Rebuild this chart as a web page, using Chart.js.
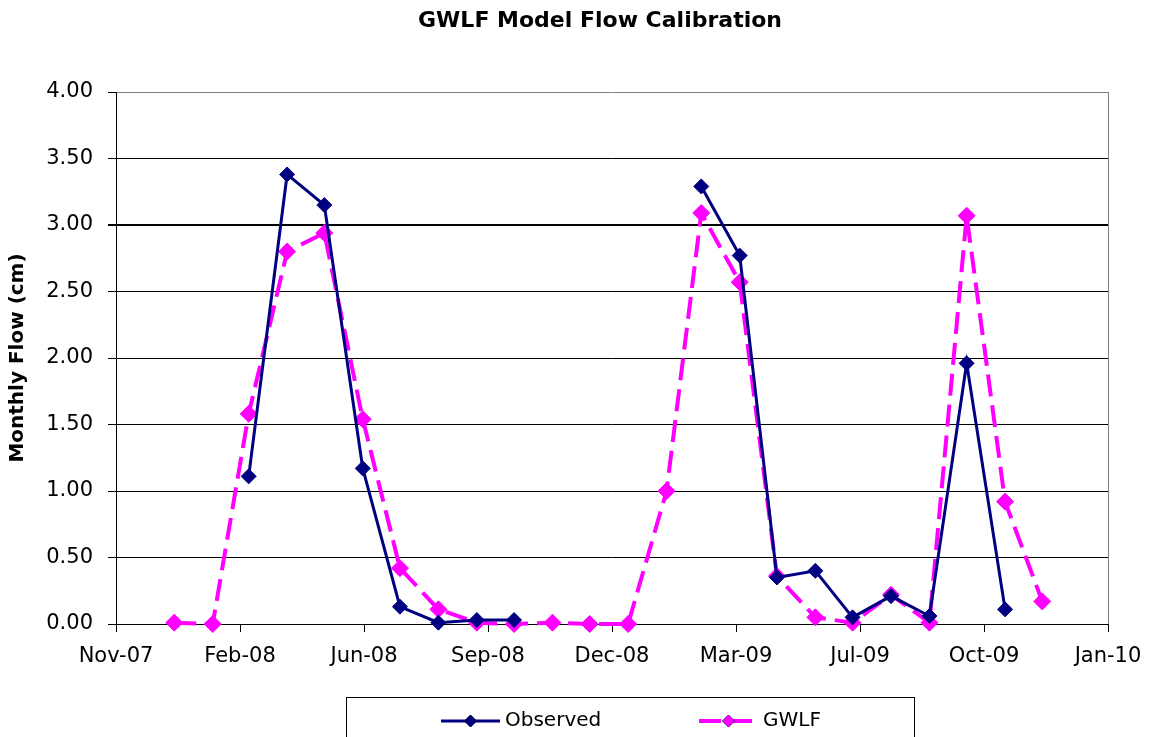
<!DOCTYPE html>
<html>
<head>
<meta charset="utf-8">
<title>GWLF Model Flow Calibration</title>
<script src="https://cdn.jsdelivr.net/npm/chart.js@4.4.1/dist/chart.umd.min.js"></script>
<style>
  html, body { margin: 0; padding: 0; background: #fff; }
  #wrap { width: 1149px; height: 737px; }
</style>
</head>
<body>
<div id="wrap"><canvas id="flowChart" width="1149" height="737"></canvas></div>
<script>
// monthly flow (cm), one value per month
const months = [
    '2008-01', '2008-02', '2008-03', '2008-04', '2008-05', '2008-06',
    '2008-07', '2008-08', '2008-09', '2008-10', '2008-11', '2008-12',
    '2009-01', '2009-02', '2009-03', '2009-04', '2009-05', '2009-06',
    '2009-07', '2009-08', '2009-09', '2009-10', '2009-11', '2009-12'
];
const observed = [null, null, 1.11, 3.38, 3.15, 1.17, 0.13, 0.01, 0.03, 0.03, null, null,
                  null, null, 3.29, 2.77, 0.35, 0.40, 0.05, 0.21, 0.06, 1.96, 0.11, null];
const gwlf = [0.01, 0.00, 1.58, 2.80, 2.94, 1.54, 0.42, 0.11, 0.01, 0.00, 0.01, 0.00,
              0.00, 1.00, 3.09, 2.57, 0.36, 0.05, 0.01, 0.22, 0.01, 3.07, 0.92, 0.17];

// date axis: starts 15 Nov 2007, a tick every 100 days
const axisStart = '2007-11-15';
const tickStepDays = 100;
const xTickLabels = ['Nov-07', 'Feb-08', 'Jun-08', 'Sep-08', 'Dec-08', 'Mar-09', 'Jul-09', 'Oct-09', 'Jan-10'];
const yTicks = [0, 0.5, 1, 1.5, 2, 2.5, 3, 3.5, 4];

const chartTitle = 'GWLF Model Flow Calibration';
const yTitle = 'Monthly Flow (cm)';

function dayOf(str) {
    const p = str.split('-').map(Number);
    const t = Date.UTC(p[0], p[1] - 1, p[2] || 1);
    const s = axisStart.split('-').map(Number);
    return (t - Date.UTC(s[0], s[1] - 1, s[2])) / 86400000;
}

const tickFont = { family: 'DejaVu Sans', size: 21 };

// title, right border and legend box drawn by hand
const extras = {
    id: 'extras',
    beforeDatasetsDraw(chart) {
        const { ctx, chartArea } = chart;
        ctx.save();
        ctx.strokeStyle = '#808080';
        ctx.lineWidth = 1;
        ctx.beginPath();
        ctx.moveTo(chartArea.right + 0.5, chartArea.top);
        ctx.lineTo(chartArea.right + 0.5, chartArea.bottom);
        ctx.stroke();
        ctx.restore();
    },
    afterDraw(chart) {
        const ctx = chart.ctx;
        ctx.save();
        ctx.fillStyle = '#000';
        ctx.font = 'bold 22px "DejaVu Sans"';
        ctx.textAlign = 'center';
        ctx.textBaseline = 'middle';
        ctx.fillText(chartTitle, 600, 21);

        // legend
        ctx.strokeStyle = '#000';
        ctx.lineWidth = 1;
        ctx.strokeRect(346.5, 697.5, 568, 60);
        const spots = [441, 699];
        const ly = 721;
        chart.data.datasets.forEach((ds, i) => {
            const x0 = spots[i];
            ctx.save();
            ctx.strokeStyle = ds.borderColor;
            ctx.lineWidth = ds.borderWidth;
            ctx.setLineDash(ds.borderDash || []);
            ctx.beginPath();
            ctx.moveTo(x0, ly);
            ctx.lineTo(x0 + 59, ly);
            ctx.stroke();
            ctx.restore();
            Chart.helpers.drawPoint(ctx, {
                pointStyle: 'rectRot', radius: 6, borderWidth: 1, rotation: 0
            }, x0 + 29.5, ly);
            ctx.fillStyle = ds.backgroundColor;
            ctx.strokeStyle = ds.borderColor;
            ctx.fill();
            ctx.fillStyle = '#000';
            ctx.font = '20px "DejaVu Sans"';
            ctx.textAlign = 'left';
            ctx.fillText(ds.label, x0 + 64, ly);
        });
        ctx.restore();
    }
};

new Chart(document.getElementById('flowChart'), {
    type: 'line',
    data: {
        datasets: [{
            label: 'Observed',
            data: months.map((m, i) => ({ x: dayOf(m), y: observed[i] })),
            borderColor: '#000080',
            backgroundColor: '#000080',
            borderWidth: 3,
            pointStyle: 'rectRot',
            pointRadius: 7.5,
            pointBorderWidth: 1,
            clip: false
        }, {
            label: 'GWLF',
            data: months.map((m, i) => ({ x: dayOf(m), y: gwlf[i] })),
            borderColor: '#FF00FF',
            backgroundColor: '#FF00FF',
            borderWidth: 4,
            borderDash: [22, 9],
            pointStyle: 'rectRot',
            pointRadius: 8.5,
            pointBorderWidth: 1,
            clip: false
        }]
    },
    options: {
        responsive: false,
        animation: false,
        layout: { padding: { top: 92, right: 41, left: 0, bottom: 0 } },
        plugins: {
            legend: { display: false },
            title: { display: false },
            tooltip: { enabled: false }
        },
        scales: {
            x: {
                type: 'linear',
                min: 0,
                max: tickStepDays * (xTickLabels.length - 1),
                afterBuildTicks: ax => {
                    ax.ticks = xTickLabels.map((_, i) => ({ value: i * tickStepDays }));
                },
                afterFit: s => {
                    s.height = 113;
                    s.paddingLeft = 0;
                    s.paddingRight = 0;
                },
                ticks: {
                    callback: (v, i) => xTickLabels[i],
                    autoSkip: false,
                    maxRotation: 0,
                    padding: 12,
                    color: '#000',
                    font: tickFont
                },
                grid: { drawOnChartArea: false, tickLength: 8, color: '#000' },
                border: { color: '#000', width: 1 }
            },
            y: {
                min: 0,
                max: 4,
                afterBuildTicks: ax => {
                    ax.ticks = yTicks.map(v => ({ value: v }));
                },
                afterFit: s => { s.width = 116; },
                ticks: {
                    callback: v => v.toFixed(2),
                    padding: 15,
                    color: '#000',
                    font: tickFont
                },
                grid: {
                    color: c => (c.tick && c.tick.value === 4) ? '#808080' : '#000',
                    lineWidth: c => (c.tick && c.tick.value === 3) ? 2 : 1,
                    tickColor: '#000',
                    tickLength: 8
                },
                border: { color: '#000', width: 1 },
                title: {
                    display: true,
                    text: yTitle,
                    color: '#000',
                    font: { family: 'DejaVu Sans', size: 20, weight: 'bold' },
                    padding: { top: 6, bottom: 0 }
                }
            }
        }
    },
    plugins: [extras]
});
</script>
</body>
</html>
